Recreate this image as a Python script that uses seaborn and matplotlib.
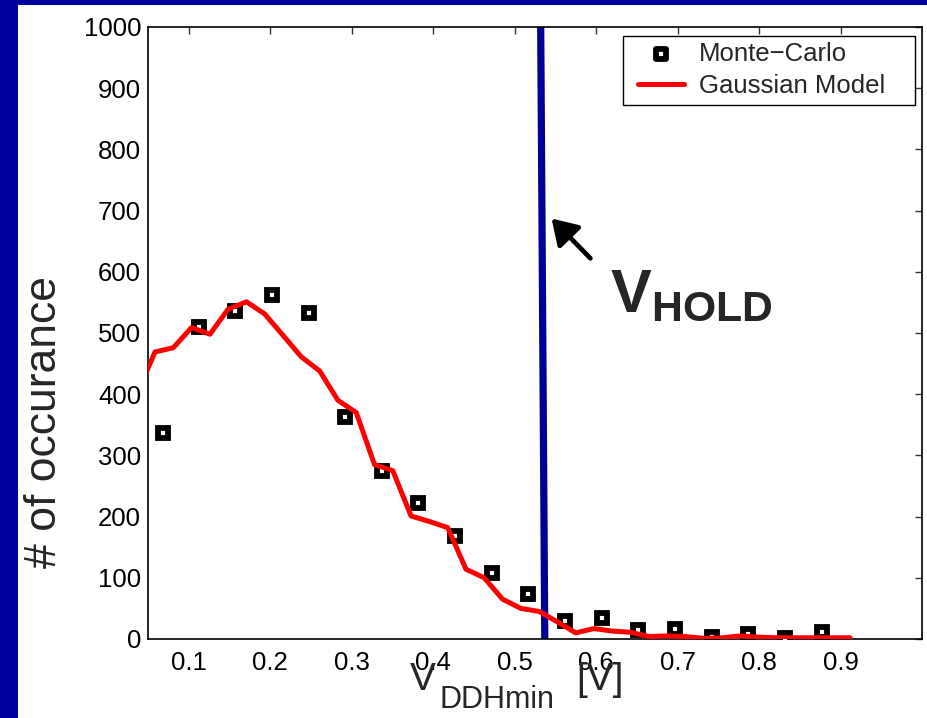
import matplotlib
matplotlib.use("Agg")
import matplotlib.pyplot as plt
from matplotlib.patches import Rectangle
import numpy as np
import pandas as pd
import seaborn as sns

# Monte-Carlo histogram (bin centres and counts)
mc_v = [0.068, 0.112, 0.157, 0.202, 0.247, 0.292, 0.337, 0.382, 0.427, 0.472,
        0.517, 0.562, 0.607, 0.652, 0.697, 0.742, 0.787, 0.832, 0.877]
mc_count = [337, 509, 536, 562, 533, 362, 275, 223, 169, 108,
            73, 29, 34, 15, 16, 4, 8, 2, 12]

# Gaussian model curve
gm_v = [0.036, 0.0586, 0.0811, 0.1035, 0.126, 0.1484, 0.1709, 0.1933, 0.2158,
        0.2382, 0.2607, 0.2831, 0.3056, 0.328, 0.3505, 0.3729, 0.3954, 0.4178,
        0.4403, 0.4627, 0.4852, 0.5076, 0.5301, 0.5525, 0.575, 0.5974, 0.6199,
        0.6423, 0.6648, 0.6872, 0.7097, 0.7321, 0.7546, 0.777, 0.7995, 0.822,
        0.8444, 0.8669, 0.8893, 0.9118]
gm_count = [399, 469, 476, 509, 498, 539, 551, 531, 496,
            461, 438, 390, 370, 285, 275, 201, 192, 182,
            114, 100, 65, 50, 45, 28, 10, 17, 13,
            11, 4, 5, 4, 1, 2, 5, 3, 2,
            2, 2, 2, 2]

# V_HOLD marker line (bottom -> top)
vhold_v = [0.537, 0.532]
vhold_count = [0, 1000]

x_ticks = [0.1, 0.2, 0.3, 0.4, 0.5, 0.6, 0.7, 0.8, 0.9]
y_ticks = [0, 100, 200, 300, 400, 500, 600, 700, 800, 900, 1000]

sns.set_style("white")
plt.rcParams["font.family"] = ["Liberation Sans", "DejaVu Sans"]
plt.rcParams["mathtext.fontset"] = "custom"
plt.rcParams["mathtext.rm"] = "Liberation Sans"
plt.rcParams["mathtext.default"] = "regular"

navy = "#00009C"
W, H = 928, 718
fig = plt.figure(figsize=(W / 100, H / 100), dpi=100, facecolor=navy)
fig.patches.append(Rectangle((18 / W, 0), 1 - 18 / W, 1 - 5 / H,
                             transform=fig.transFigure, facecolor="white",
                             edgecolor="none", zorder=-10))

ax = fig.add_axes([148 / W, 1 - 639 / H, (922 - 148) / W, (639 - 27) / H])
ax.set_facecolor("white")

mc_df = pd.DataFrame({"v": mc_v, "n": mc_count})
gm_df = pd.DataFrame({"v": gm_v, "n": gm_count})

# V_HOLD line
ax.plot(vhold_v, vhold_count, color="#000099", lw=5.2, zorder=2,
        solid_capstyle="butt")

sns.scatterplot(data=mc_df, x="v", y="n", ax=ax, marker="s", s=44,
                facecolor="white", edgecolor="black", linewidth=4.2,
                joinstyle="miter", label="Monte\u2212Carlo", zorder=3)
sns.lineplot(data=gm_df, x="v", y="n", ax=ax, sort=False, estimator=None,
             color="#FF0000", lw=3.6, label="Gaussian Model", zorder=4)

ax.set_xlim(0.05, 1.0)
ax.set_ylim(0, 1000)
ax.set_xticks(x_ticks)
ax.set_xticklabels([f"{t:g}" for t in x_ticks])
ax.set_yticks(y_ticks)
ax.set_yticklabels([str(t) for t in y_ticks])
ax.tick_params(direction="in", length=5, width=1, colors="#333333",
               labelcolor="black", labelsize=18.5, top=True, right=True,
               pad=5)
ax.tick_params(axis="x", pad=9)
for sp in ax.spines.values():
    sp.set_visible(True)
    sp.set_color("black")
    sp.set_linewidth(1.2)

# x-axis label: V with lowered subscript, then the unit
ax.set_xlabel("")
fig.text(410 / W, 1 - 690 / H, "V", fontsize=28, ha="left", va="baseline")
fig.text(440 / W, 1 - 708 / H, "DDHmin", fontsize=22, ha="left", va="baseline")
fig.text(576 / W, 1 - 690 / H, "[V]", fontsize=28, ha="left", va="baseline")

ax.set_ylabel("# of occurance", fontsize=32, va="center", ha="center")
ax.yaxis.set_label_coords((44.4 - 148) / 774, (639 - 422.5) / 612)

ax.annotate("", xy=(0.5454, 687), xytext=(0.593, 622),
            arrowprops=dict(arrowstyle="-|>,head_length=0.6,head_width=0.38",
                            lw=3.4, color="black", mutation_scale=25,
                            shrinkA=0, shrinkB=0))
ax.text(0.6167, 536, r"$V_{HOLD}$", fontsize=44, fontweight="bold",
        ha="left", va="baseline")

# legend box drawn separately so its padding can follow the layout
ax.add_patch(Rectangle(((623 - 148) / 774, (639 - 105) / 612),
                       (915 - 623) / 774, (105 - 36) / 612,
                       transform=ax.transAxes, facecolor="white",
                       edgecolor="black", lw=1.0, zorder=5))
leg = ax.legend(loc="upper left", bbox_to_anchor=((638 - 148) / 774, (639 - 42) / 612),
                fontsize=18.5, frameon=False, borderaxespad=0, borderpad=0,
                handlelength=1.78, handletextpad=0.6, labelspacing=0.3)
leg.set_zorder(6)

fig.savefig("out.png", dpi=100, facecolor=fig.get_facecolor())
